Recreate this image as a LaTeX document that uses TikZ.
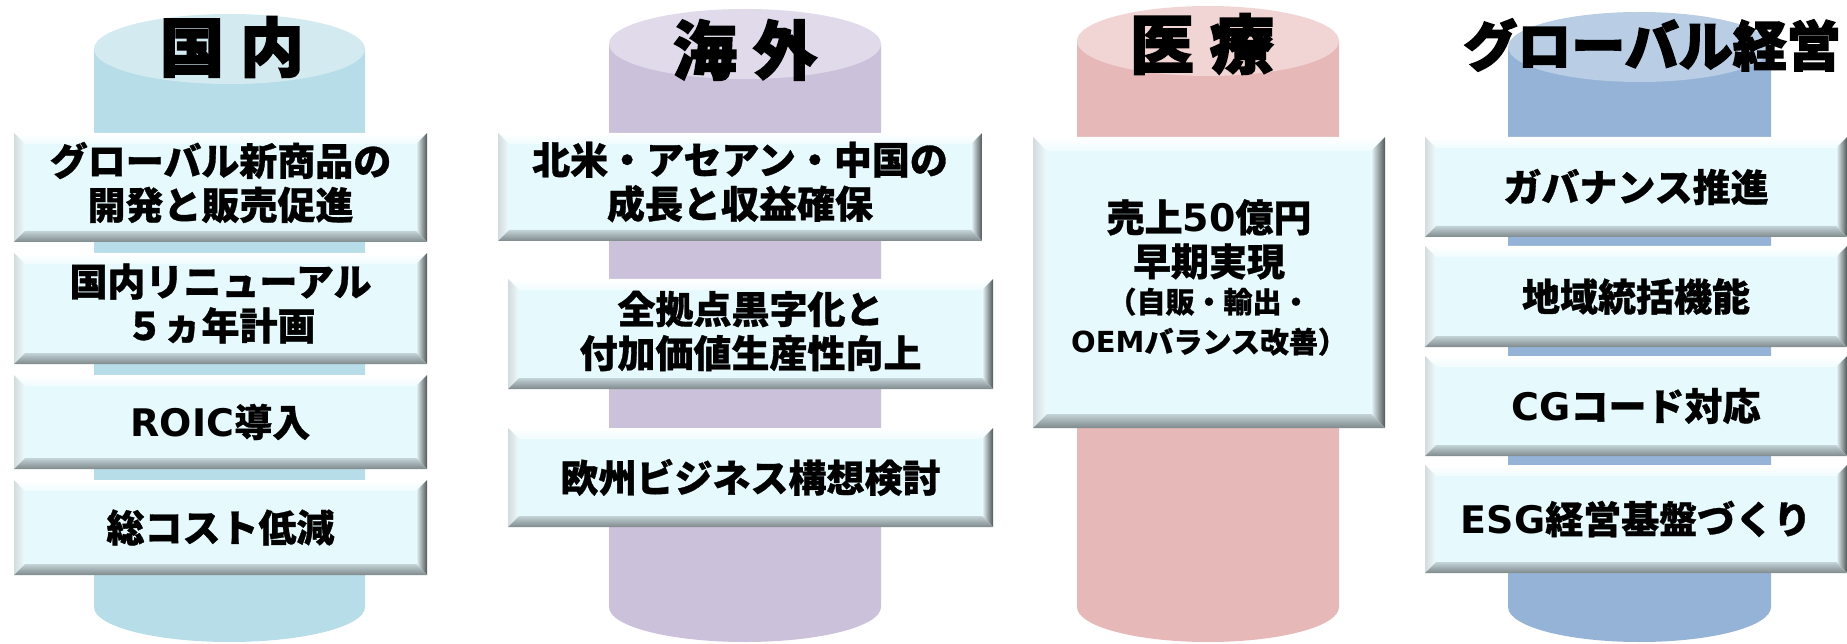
\documentclass[tikz,border=0pt]{standalone}
\usepackage{fontspec}
\setmainfont{Noto Sans CJK JP}[BoldFeatures={FakeBold=0.8}]
\newfontfamily\ttlfont{Noto Sans CJK JP}[BoldFeatures={FakeBold=2.5}]
\newfontfamily\latf{DejaVu Sans}
\newcommand\LT[1]{{\latf #1}}
\newcommand\smallline{\fontsize{29}{38}\selectfont}
\definecolor{facec}{HTML}{E6F9FD}
\definecolor{c1body}{HTML}{B7DDE8}\definecolor{c1top}{HTML}{D3EAF1}
\definecolor{c2body}{HTML}{CCC1DA}\definecolor{c2top}{HTML}{E0DAEA}
\definecolor{c3body}{HTML}{E6B9B8}\definecolor{c3top}{HTML}{F1D4D4}
\definecolor{c4body}{HTML}{95B3D7}\definecolor{c4top}{HTML}{B9CDE5}
\tikzset{
  boxtext/.style={align=center,inner sep=0pt,font=\bfseries\fontsize{38}{44}\selectfont},
  twoline/.style={yshift=5pt},
  coltitle/.style={inner sep=0pt,font=\ttlfont\bfseries\fontsize{64}{66}\selectfont},
}
% cylinder: xc, rx, ytop, ybottom, ry, body, top
\newcommand\cyl[7]{%
  \fill[#6] (#1-#2,#3) -- (#1-#2,#4) arc[start angle=180,end angle=360,x radius=#2pt,y radius=#5pt] -- (#1+#2,#3) -- cycle;
  \fill[#7] (#1,#3) ellipse[x radius=#2pt,y radius=#5pt];
}
% bevel box: [node options], name, x1, y1, x2, y2, depth, text
\newcommand\bevbox[8][]{%
  \fill[facec] (#3+#7,#4+#7) rectangle (#5-#7,#6-#7);
  \shade[top color=white,bottom color=white!40!facec] (#3,#4) -- (#5,#4) -- (#5-#7,#4+#7) -- (#3+#7,#4+#7) -- cycle;
  \shade[left color=black!22!white!60!facec,right color=white!30!facec] (#3,#4) -- (#3+#7,#4+#7) -- (#3+#7,#6-#7) -- (#3,#6) -- cycle;
  \shade[left color=white!20!facec,right color=black!65!facec] (#5,#4) -- (#5,#6) -- (#5-#7,#6-#7) -- (#5-#7,#4+#7) -- cycle;
  \shade[top color=black!15!facec,bottom color=black!45!facec] (#3,#6) -- (#5,#6) -- (#5-#7,#6-#7) -- (#3+#7,#6-#7) -- cycle;
  \node[boxtext,#1] (#2) at ({(#3+#5)/2},{(#4+#6)/2}) {#8};
}
\begin{document}
\begin{tikzpicture}[x=1pt,y=-1pt]
\useasboundingbox (0,0) rectangle (1847,644);
% cylinders
\cyl{229.5}{135.5}{49}{607}{35}{c1body}{c1top}
\cyl{745}{136}{44}{607}{35}{c2body}{c2top}
\cyl{1208}{131}{41}{607}{35}{c3body}{c3top}
\cyl{1639.5}{131.5}{47}{607}{35}{c4body}{c4top}
% titles
\node[coltitle] (t1) at (232,47) {国\hspace{0.25em}内};
\node[coltitle] (t2) at (745,50) {海\hspace{0.25em}外};
\node[coltitle] (t3) at (1202,44) {医\hspace{0.25em}療};
\node[coltitle,font=\ttlfont\bfseries\fontsize{54}{56}\selectfont] (t4) at (1652,45) {グローバル経営};
% column 1
\bevbox[twoline]{a1}{14}{133}{427}{242}{11}{グローバル新商品の\\開発と販売促進}
\bevbox[twoline]{a2}{14}{253}{427}{364}{11}{国内リニューアル\\５ヵ年計画}
\bevbox{a3}{14}{375}{427}{469}{11}{\LT{ROIC}導入}
\bevbox{a4}{14}{480}{427}{575}{11}{総コスト低減}
% column 2
\bevbox[twoline]{b1}{498}{133}{982}{241}{11}{北米・アセアン・中国の\\成長と収益確保}
\bevbox[yshift=3pt]{b2}{508}{279}{993}{389}{11}{全拠点黒字化と\\付加価値生産性向上}
\bevbox{b3}{508}{428}{993}{527}{11}{欧州ビジネス構想検討}
% column 3
\bevbox[yshift=5pt]{c1}{1033}{137}{1385}{428}{14}{売上\LT{50}億円\\早期実現\\[-7pt]\smallline （自販・輸出・\\[-4pt]\smallline\LT{OEM}バランス改善）}
% column 4
\bevbox{d1}{1425}{137}{1847}{237}{11}{ガバナンス推進}
\bevbox{d2}{1425}{246}{1847}{347}{11}{地域統括機能}
\bevbox{d3}{1425}{356}{1847}{456}{11}{\LT{CG}コード対応}
\bevbox{d4}{1425}{465}{1847}{573}{11}{\LT{ESG}経営基盤づくり}
\end{tikzpicture}
\end{document}
